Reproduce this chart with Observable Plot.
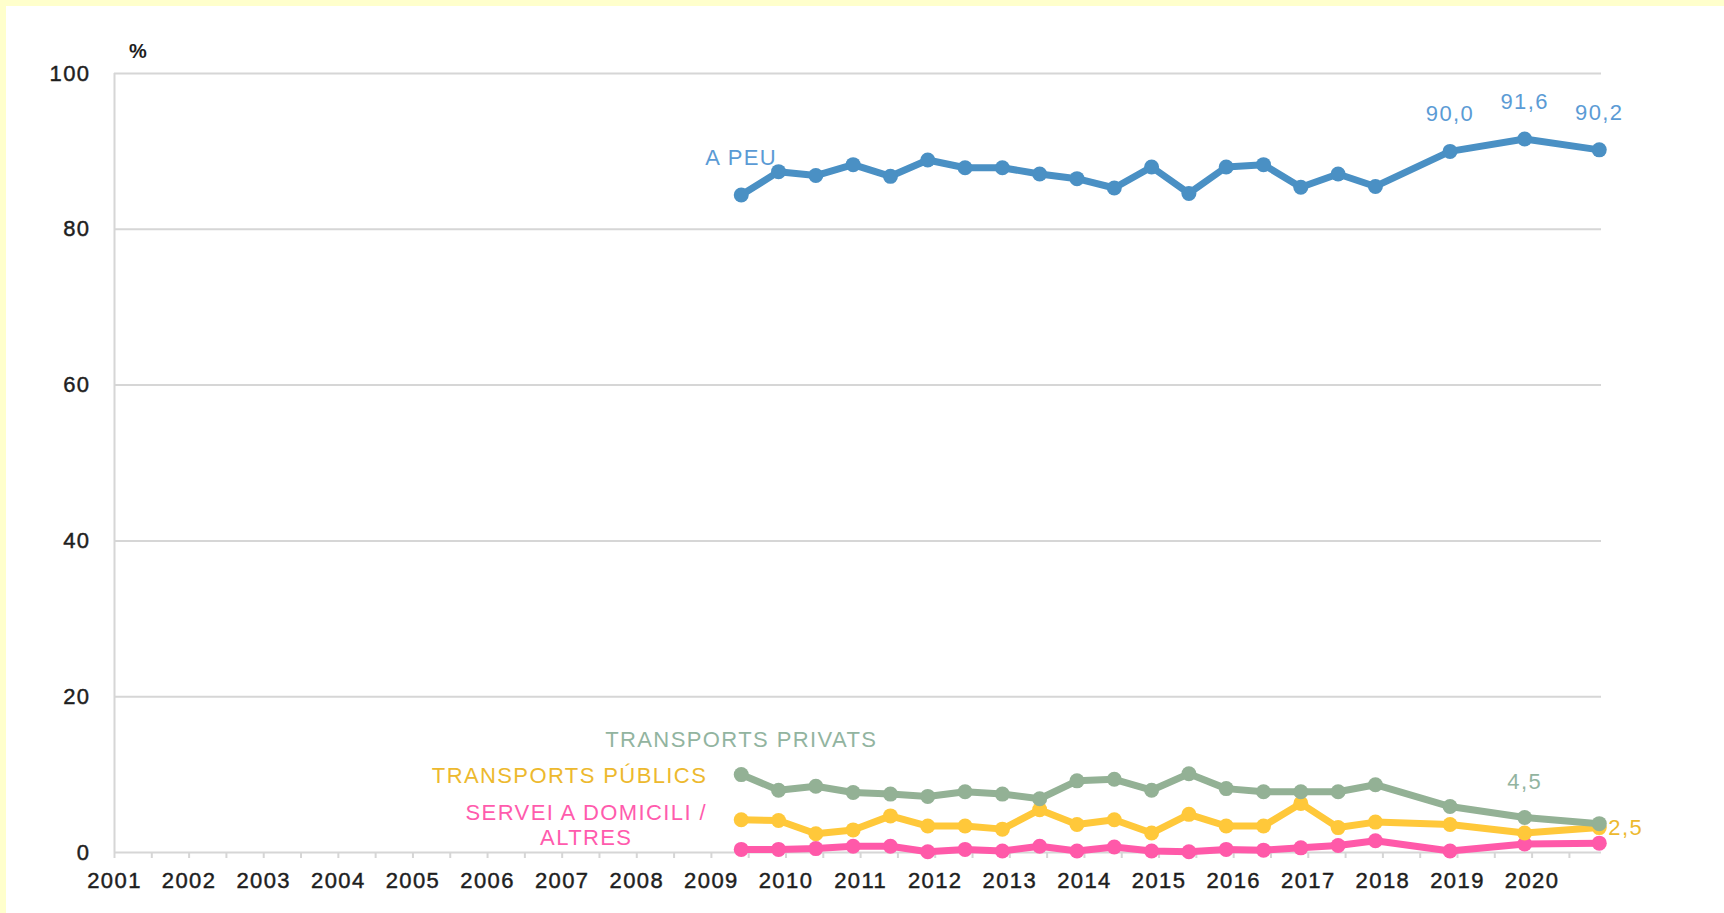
<!DOCTYPE html>
<html><head><meta charset="utf-8">
<script src="https://cdn.jsdelivr.net/npm/d3@7"></script>
<script src="https://cdn.jsdelivr.net/npm/@observablehq/plot@0.6"></script>
<style>
html,body{margin:0;padding:0;background:#FFFFCC;}
#panel{position:absolute;left:6px;top:6px;width:1718px;height:907px;background:#fff;}
#panel svg text{letter-spacing:1.4px;}
#panel svg g[aria-label="x-axis tick label"] text,
#panel svg g[aria-label="y-axis tick label"] text{stroke:#1e1e1e;stroke-width:0.45px;}
</style></head><body><div id="panel"></div>
<script>
// survey dates (decimal years: spring/autumn waves, then yearly)
const surveyYears = [2009.4, 2009.9, 2010.4, 2010.9, 2011.4, 2011.9, 2012.4, 2012.9, 2013.4, 2013.9, 2014.4, 2014.9, 2015.4, 2015.9, 2016.4, 2016.9, 2017.4, 2017.9, 2018.9, 2019.9, 2020.9];
const aPeu = [84.4, 87.4, 86.9, 88.3, 86.8, 88.9, 87.9, 87.9, 87.1, 86.5, 85.3, 88.0, 84.6, 88.0, 88.3, 85.4, 87.1, 85.5, 90.0, 91.6, 90.2];
const transportsPrivats = [10.0, 8.0, 8.5, 7.7, 7.5, 7.2, 7.8, 7.5, 6.9, 9.2, 9.4, 8.0, 10.1, 8.2, 7.8, 7.8, 7.8, 8.7, 5.9, 4.5, 3.7];
const transportsPublics = [4.2, 4.1, 2.4, 2.9, 4.7, 3.4, 3.4, 3.0, 5.5, 3.6, 4.2, 2.5, 4.9, 3.4, 3.4, 6.3, 3.2, 3.9, 3.6, 2.5, 3.2];
const serveiDomicili = [0.4, 0.4, 0.5, 0.8, 0.8, 0.1, 0.4, 0.2, 0.8, 0.2, 0.7, 0.2, 0.1, 0.4, 0.3, 0.6, 0.9, 1.5, 0.2, 1.1, 1.2];

const seriesNames = ["A PEU", "TRANSPORTS PRIVATS", "TRANSPORTS PÚBLICS", "SERVEI A DOMICILI /\nALTRES"];
const yTicks = [0, 20, 40, 60, 80, 100];
const yearLabels = [2001, 2002, 2003, 2004, 2005, 2006, 2007, 2008, 2009, 2010, 2011, 2012, 2013, 2014, 2015, 2016, 2017, 2018, 2019, 2020];
const halfYearTicks = d3.range(2001, 2020.51, 0.5);
const unitLabel = "%";

const fmt = v => d3.format(".1f")(v).replace(".", ",");
const rows = vals => surveyYears.map((x, i) => ({x, y: vals[i]}));

const C = {
  blue: {line: "#4A90C4", text: "#5B9BD5"},
  green: {line: "#93B195", text: "#92B4A0"},
  yellow: {line: "#FFC83A", text: "#EDB92E"},
  pink: {line: "#FF59A9", text: "#FF5BAD"}
};
const grid = "#d6d6d6";
const font = "'Liberation Sans', Arial, sans-serif";

function seriesMarks(vals, col) {
  return [
    Plot.line(rows(vals), {x: "x", y: "y", stroke: col.line, strokeWidth: 7, strokeLinejoin: "round"}),
    Plot.dot(rows(vals), {x: "x", y: "y", r: 7.5, fill: col.line, stroke: null})
  ];
}
const t = {fontSize: 22, lineAnchor: "middle"};

const chart = Plot.plot({
  width: 1718, height: 907,
  marginLeft: 108, marginRight: 123, marginTop: 67, marginBottom: 61,
  style: {fontFamily: font, fontSize: "22px", background: "#fff", overflow: "visible"},
  x: {type: "linear", domain: [2001, 2020.93]},
  y: {domain: [0, 100]},
  marks: [
    Plot.ruleY(yTicks, {stroke: grid, strokeWidth: 2}),
    Plot.ruleX([yearLabels[0]], {y1: 0, y2: 100, stroke: grid, strokeWidth: 2}),
    Plot.axisX({ticks: halfYearTicks, tickSize: 6, tickFormat: () => "", stroke: grid, strokeWidth: 2, label: null}),
    Plot.axisX({ticks: yearLabels, tickSize: 0, tickPadding: 20, tickFormat: d => String(d), fill: "#1e1e1e", fontSize: 22, label: null}),
    Plot.axisY({ticks: yTicks, tickSize: 0, tickPadding: 24, tickFormat: d => String(d), fill: "#1e1e1e", fontSize: 22, label: null}),
    Plot.text([unitLabel], {frameAnchor: "top-left", text: d => d, dx: 24, dy: -22, fontSize: 20, fontWeight: "bold", fill: "#1e1e1e", textAnchor: "middle", lineAnchor: "middle"}),
    ...seriesMarks(aPeu, C.blue),
    ...seriesMarks(serveiDomicili, C.pink),
    ...seriesMarks(transportsPublics, C.yellow),
    ...seriesMarks(transportsPrivats, C.green),
    // series labels
    Plot.text([0], {...t, x: i => surveyYears[i], y: i => aPeu[i], text: () => seriesNames[0], dy: -37, fill: C.blue.text, textAnchor: "middle"}),
    Plot.text([0], {...t, x: i => surveyYears[i], y: i => transportsPrivats[i], text: () => seriesNames[1], dy: -35, fill: C.green.text, textAnchor: "middle"}),
    Plot.text([0], {...t, x: i => surveyYears[i], y: i => transportsPublics[i], text: () => seriesNames[2], dx: -34, dy: -44, fill: C.yellow.text, textAnchor: "end"}),
    Plot.text([0], {...t, x: i => surveyYears[i], y: i => serveiDomicili[i], text: () => seriesNames[3], dx: -155, dy: -25, lineHeight: 1.15, fill: C.pink.text, textAnchor: "middle"}),
    // value labels
    Plot.text([18, 19, 20], {...t, x: i => surveyYears[i], y: i => aPeu[i], text: i => fmt(aPeu[i]), dy: -37, fill: C.blue.text, textAnchor: "middle"}),
    Plot.text([19], {...t, x: i => surveyYears[i], y: i => transportsPrivats[i], text: i => fmt(transportsPrivats[i]), dy: -35, fill: C.green.text, textAnchor: "middle"}),
    Plot.text([19], {...t, x: () => surveyYears[20], y: () => transportsPublics[20], text: i => fmt(transportsPublics[i]), dx: 9, dy: 0, fill: C.yellow.text, textAnchor: "start"})
  ]
});
document.getElementById("panel").appendChild(chart);
</script>
</body></html>
